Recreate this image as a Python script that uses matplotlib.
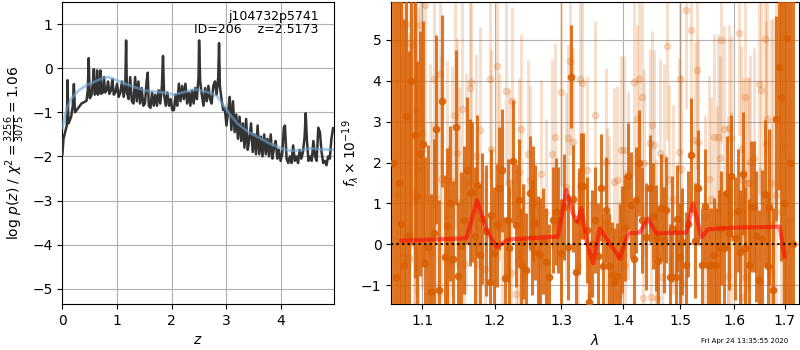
import matplotlib
matplotlib.use('Agg')
import matplotlib.pyplot as plt
from matplotlib.ticker import NullLocator, NullFormatter, FixedLocator, FixedFormatter

# ---- left panel: redshift probability
z_pz = [0.00, 0.02, 0.05, 0.08, 0.095, 0.11, 0.13, 0.16, 0.19, 0.21, 0.23, 0.26, 0.29, 0.32,
        0.35, 0.38, 0.41, 0.44, 0.465, 0.48, 0.50, 0.53, 0.56, 0.575, 0.59, 0.62, 0.635, 0.65,
        0.68, 0.695, 0.71, 0.74, 0.76, 0.78, 0.81, 0.835, 0.86, 0.89, 0.915, 0.94, 0.97, 1.00,
        1.03, 1.06, 1.09, 1.12, 1.15, 1.165, 1.18, 1.21, 1.24, 1.27, 1.30, 1.33, 1.36, 1.39,
        1.42, 1.45, 1.48, 1.51, 1.54, 1.56, 1.58, 1.61, 1.64, 1.67, 1.70, 1.73, 1.76, 1.79,
        1.82, 1.84, 1.86, 1.89, 1.92, 1.95, 1.98, 2.01, 2.04, 2.07, 2.10, 2.13, 2.16, 2.19,
        2.22, 2.25, 2.28, 2.31, 2.34, 2.37, 2.40, 2.43, 2.46, 2.49, 2.50, 2.52, 2.55, 2.58,
        2.61, 2.64, 2.67, 2.70, 2.73, 2.76, 2.79, 2.82, 2.85, 2.865, 2.88, 2.91, 2.94, 2.97,
        3.00, 3.03, 3.06, 3.09, 3.12, 3.15, 3.18, 3.21, 3.24, 3.27, 3.30, 3.33, 3.36, 3.39,
        3.42, 3.45, 3.48, 3.51, 3.54, 3.57, 3.60, 3.63, 3.66, 3.69, 3.72, 3.75, 3.78, 3.81,
        3.84, 3.87, 3.90, 3.93, 3.96, 3.99, 4.02, 4.05, 4.07, 4.10, 4.13, 4.16, 4.19, 4.22,
        4.25, 4.28, 4.31, 4.34, 4.37, 4.40, 4.43, 4.45, 4.47, 4.50, 4.53, 4.56, 4.59, 4.62,
        4.65, 4.68, 4.71, 4.74, 4.77, 4.80, 4.83, 4.86, 4.89, 4.92, 4.95]
log_pz = [-1.95, -1.60, -1.45, -1.30, -0.27, -1.25, -1.20, -1.10, -0.85, -0.36, -1.00, -0.95,
          -0.90, -0.85, -0.80, -0.78, -0.76, -0.74, -0.50, 0.23, -0.68, -0.62, -0.30, -0.02,
          -0.60, -0.55, -0.05, -0.60, -0.50, -0.05, -0.58, -0.55, -0.20, -0.55, -0.50, -0.30,
          -0.58, -0.50, -0.25, -0.60, -0.55, -0.35, -0.65, -0.55, -0.30, -0.65, -0.40, 0.63,
          -0.55, -0.70, -0.20, -0.75, -0.80, -0.20, -0.75, -0.30, -0.80, -0.45, -0.85, -0.80,
          -0.30, -0.10, -0.85, -0.90, -0.55, -0.85, -0.60, -0.85, -0.50, -0.80, -0.40, 0.28,
          -0.60, -0.85, -0.55, -0.85, -0.70, -0.95, -0.95, -0.60, -0.85, -0.35, -0.75, -0.40,
          -0.70, -0.35, -0.80, -0.55, -0.85, -0.50, -0.80, -0.45, -0.70, -0.20, 0.63, -0.30,
          -0.60, -0.85, -0.45, -0.75, -0.40, -0.70, -0.80, -0.40, -0.30, -0.60, -0.20, 0.57,
          -0.40, -0.70, -0.95, -0.90, -1.30, -1.00, -0.65, -1.40, -0.75, -1.45, -1.05, -1.60,
          -1.10, -1.65, -1.25, -1.80, -1.15, -1.85, -1.60, -1.25, -1.90, -1.50, -1.95, -1.30,
          -1.95, -1.55, -2.00, -1.50, -1.95, -1.60, -2.00, -1.50, -2.05, -1.80, -1.65, -2.05,
          -1.85, -2.10, -1.95, -1.35, -1.30, -2.05, -2.15, -2.00, -2.15, -1.75, -2.10, -2.00,
          -2.15, -1.85, -2.05, -1.90, -1.55, -1.02, -1.60, -2.10, -2.00, -2.10, -1.65, -2.00,
          -2.10, -1.35, -1.45, -1.90, -2.15, -2.10, -2.20, -2.00, -2.05, -1.60, -1.36]

z_prior = [0.00, 0.05, 0.10, 0.17, 0.30, 0.45, 0.60, 0.75, 0.84, 0.95, 1.10, 1.30, 1.50, 1.67,
           1.85, 2.03, 2.20, 2.43, 2.60, 2.75, 2.83, 2.95, 3.07, 3.20, 3.31, 3.45, 3.62, 3.78,
           3.93, 4.05, 4.17, 4.35, 4.54, 4.75, 4.96]
log_prior = [-1.35, -1.05, -0.85, -0.68, -0.50, -0.38, -0.30, -0.22, -0.20, -0.25, -0.33,
             -0.42, -0.50, -0.53, -0.55, -0.60, -0.55, -0.48, -0.52, -0.58, -0.64, -0.85,
             -1.06, -1.25, -1.36, -1.48, -1.59, -1.70, -1.78, -1.84, -1.87, -1.86, -1.82,
             -1.84, -1.85]

# ---- right panel: spectrum (primary grism, dark)
lam_a = [1.0620, 1.0658, 1.0697, 1.0729, 1.0761, 1.0787, 1.0830, 1.0861, 1.0904, 1.0934,
         1.0970, 1.1014, 1.1036, 1.1079, 1.1125, 1.1160, 1.1192, 1.1227, 1.1267, 1.1304,
         1.1335, 1.1372, 1.1417, 1.1454, 1.1485, 1.1532, 1.1571, 1.1610, 1.1648, 1.1686,
         1.1718, 1.1750, 1.1789, 1.1827, 1.1884, 1.1931, 1.1955, 1.1989, 1.2032, 1.2061,
         1.2108, 1.2158, 1.2192, 1.2217, 1.2265, 1.2314, 1.2354, 1.2391, 1.2424, 1.2462,
         1.2523, 1.2553, 1.2573, 1.2604, 1.2638, 1.2674, 1.2714, 1.2765, 1.2817, 1.2868,
         1.2919, 1.2946, 1.2993, 1.3050, 1.3102, 1.3154, 1.3181, 1.3234, 1.3276, 1.3313,
         1.3340, 1.3409, 1.3448, 1.3490, 1.3545, 1.3594, 1.3631, 1.3669, 1.3713, 1.3768,
         1.3813, 1.3851, 1.3908, 1.3946, 1.3991, 1.4038, 1.4086, 1.4132, 1.4187, 1.4228,
         1.4273, 1.4331, 1.4388, 1.4458, 1.4515, 1.4562, 1.4606, 1.4650, 1.4708, 1.4750,
         1.4809, 1.4857, 1.4916, 1.4946, 1.4988, 1.5037, 1.5096, 1.5141, 1.5200, 1.5265,
         1.5328, 1.5394, 1.5444, 1.5505, 1.5569, 1.5612, 1.5655, 1.5712, 1.5753, 1.5800,
         1.5863, 1.5909, 1.5947, 1.6024, 1.6074, 1.6113, 1.6165, 1.6218, 1.6295, 1.6334,
         1.6379, 1.6429, 1.6478, 1.6544, 1.6611, 1.6657, 1.6691, 1.6758, 1.6824, 1.6879,
         1.6933, 1.6981, 1.7048, 1.7103, 1.7165]
flux_a = [2.00, -0.80, 1.50, 0.50, -0.50, 3.13, 0.23, 3.99, 2.68, 1.18,
          2.22, 2.45, -0.46, -0.06, -1.17, 0.28, 2.81, -1.11, 3.50, -0.30,
          0.45, 1.00, -0.36, 2.86, -0.77, -0.03, 0.60, 1.81, 1.26, 1.28,
          0.20, 1.45, -0.26, 0.63, 0.33, -0.91, 0.72, -0.20, 0.47, 1.37,
          1.81, -0.83, 0.59, -0.10, 2.03, 0.47, 1.08, -0.50, 0.07, -0.63,
          1.26, 0.17, 1.00, 0.53, -0.22, -0.26, 0.09, -0.42, -0.79, 0.59,
          0.80, 0.59, -0.20, 0.92, -0.07, 4.10, 1.12, -0.67, 0.57, 1.42,
          1.42, 0.35, -1.40, 0.02, 0.59, -0.28, 1.39, -0.54, 0.84, -0.53,
          -0.75, -0.91, -0.77, -0.32, 0.12, 0.40, 1.67, 0.96, -0.36, 1.08,
          1.99, 0.59, 0.19, 1.37, 0.69, 0.15, -0.40, 0.90, 0.11, 0.84,
          -0.80, 0.37, -0.79, 0.63, -0.30, 0.07, -0.50, 0.50, 2.18, 0.09,
          1.39, -0.50, 0.93, -0.50, -0.50, -0.26, -0.50, -0.07, 0.40, -0.10,
          1.26, 0.29, 1.67, 0.15, 0.82, -0.18, 1.73, -0.10, -0.50, 0.92,
          0.92, 0.20, -0.87, 0.12, 1.24, -0.53, 0.92, -1.11, 3.07, 4.33,
          3.60, 1.00, 5.05, 2.00, 0.00]
err_a = [9.0, 8.0, 7.0, 7.0, 6.0, 5.0, 4.5, 4.0, 3.5, 3.3,
         3.0, 3.0, 2.6, 2.5, 2.4, 2.3, 2.3, 2.2, 2.1, 2.0,
         1.9, 1.9, 1.9, 1.9, 1.8, 1.8, 1.8, 1.8, 1.8, 1.7,
         1.7, 1.7, 1.7, 1.6, 1.6, 1.6, 1.6, 1.6, 1.5, 1.5,
         1.5, 1.5, 1.5, 1.5, 1.5, 1.5, 1.5, 1.4, 1.4, 1.4,
         1.4, 1.4, 1.4, 1.4, 1.4, 1.4, 1.3, 1.3, 1.3, 1.3,
         1.3, 1.3, 1.3, 1.3, 1.3, 1.25, 1.3, 1.3, 1.3, 1.3,
         1.3, 1.3, 1.3, 1.3, 1.3, 1.3, 1.3, 1.3, 1.3, 1.3,
         1.3, 1.3, 1.3, 1.3, 1.3, 1.3, 1.3, 1.3, 1.3, 1.3,
         1.3, 1.3, 1.3, 1.3, 1.3, 1.3, 1.3, 1.3, 1.3, 1.3,
         1.3, 1.3, 1.3, 1.3, 1.3, 1.3, 1.3, 1.3, 1.4, 1.4,
         1.4, 1.4, 1.4, 1.4, 1.4, 1.4, 1.4, 1.4, 1.4, 1.4,
         1.4, 1.4, 1.5, 1.5, 1.5, 1.5, 1.5, 1.5, 1.6, 1.6,
         1.6, 1.6, 1.7, 1.7, 1.8, 1.8, 1.9, 2.0, 2.5, 3.0,
         4.0, 6.0, 7.0, 9.0, 10.0]

# ---- right panel: second spectrum (faint)
lam_b = [1.0671, 1.0748, 1.0795, 1.0830, 1.0838, 1.0891, 1.0882, 1.0910, 1.0919, 1.0948,
         1.0978, 1.1001, 1.1036, 1.1102, 1.1133, 1.1164, 1.1199, 1.1244, 1.1258, 1.1335,
         1.1358, 1.1408, 1.1440, 1.1470, 1.1498, 1.1539, 1.1591, 1.1565, 1.1648, 1.1671,
         1.1729, 1.1747, 1.1786, 1.1860, 1.1931, 1.1955, 1.2032, 1.2061, 1.2108, 1.2166,
         1.2205, 1.2236, 1.2247, 1.2314, 1.2339, 1.2364, 1.2388, 1.2438, 1.2487, 1.2523,
         1.2687, 1.2765, 1.2855, 1.2899, 1.2991, 1.3069, 1.3106, 1.3134, 1.3181, 1.3261,
         1.3292, 1.3333, 1.3453, 1.3415, 1.3540, 1.3716, 1.3740, 1.3764, 1.3848, 1.3901,
         1.3927, 1.3966, 1.4010, 1.4042, 1.4083, 1.4180, 1.4242, 1.4273, 1.4322, 1.4342,
         1.4366, 1.4458, 1.4473, 1.4496, 1.4536, 1.4562, 1.4579, 1.4632, 1.4672, 1.4703,
         1.4752, 1.4800, 1.4862, 1.4970, 1.4988, 1.5009, 1.5032, 1.5096, 1.5200, 1.5272,
         1.5302, 1.5324, 1.5444, 1.5515, 1.5569, 1.5613, 1.5666, 1.5688, 1.5721, 1.5753,
         1.5800, 1.5873, 1.5883, 1.5909, 1.5932, 1.5945, 1.6100, 1.6125, 1.6153, 1.6179,
         1.6207, 1.6226, 1.6244, 1.6284, 1.6305, 1.6382, 1.6488, 1.6498, 1.6518, 1.6597,
         1.6629, 1.6637, 1.6730, 1.6730, 1.6771, 1.6824, 1.6926, 1.6960, 1.7021, 1.7103]
flux_b = [1.20, -0.30, 5.39, -0.34, 4.92, 1.28, 4.88, 1.12, 3.28, 1.81,
          5.37, 2.71, 5.86, 1.10, -0.22, 4.03, 1.12, 4.17, 1.61, 1.57,
          -0.46, 1.55, 3.17, 2.24, 1.04, 3.32, 1.49, -0.48, 3.83, 3.98,
          2.15, -0.48, 2.80, -0.59, 4.03, 2.34, 4.37, 1.89, 0.55, 3.76,
          1.49, -0.71, 3.50, -1.20, -0.38, 1.76, 2.83, -0.79, 2.20, 1.57,
          1.72, 0.76, 2.20, 2.63, 3.72, 1.41, 2.59, 4.48, 2.50, -0.54,
          4.04, 3.95, -1.24, 1.81, 3.15, 2.02, 0.55, 0.35, 1.53, 1.57,
          -1.24, 2.30, 2.30, -0.50, 1.45, 3.97, 3.07, 4.05, 3.59, -1.32,
          1.98, 2.48, -1.29, 2.91, 2.44, -0.22, -1.32, 2.24, -0.80, 2.10,
          4.84, 1.59, 1.10, 2.26, 4.03, 1.83, -0.95, 5.72, 5.24, 2.54,
          4.25, 2.50, 0.67, 1.61, 1.10, 2.63, 0.88, 2.63, 2.10, 5.00,
          2.83, -0.77, 0.63, 2.85, 0.76, 2.59, 5.17, 2.34, -1.28, 1.57,
          3.60, -0.79, 1.50, 1.50, 2.02, 2.10, 3.93, -0.91, 3.78, 5.02,
          2.46, 3.07, -0.67, 1.50, 0.50, 1.20, 0.80, 2.40, -0.20, 0.60]
err_b = [8.0, 7.0, 6.0, 5.5, 5.5, 5.0, 5.0, 4.5, 4.5, 4.0,
         4.0, 3.8, 3.6, 3.3, 3.2, 3.2, 3.1, 3.0, 3.0, 2.9,
         2.9, 2.8, 2.8, 2.8, 2.8, 2.7, 2.7, 2.6, 2.6, 2.6,
         2.5, 2.5, 2.5, 2.4, 2.4, 2.4, 2.4, 2.3, 2.3, 2.3,
         2.3, 2.3, 2.3, 2.3, 2.3, 2.3, 2.3, 2.3, 2.3, 2.3,
         2.3, 2.3, 2.3, 2.3, 2.3, 2.3, 2.3, 2.3, 2.3, 2.3,
         2.3, 2.3, 2.3, 2.3, 2.3, 2.3, 2.3, 2.3, 2.3, 2.3,
         2.3, 2.3, 2.3, 2.3, 2.3, 2.3, 2.3, 2.3, 2.3, 2.3,
         2.3, 2.3, 2.3, 2.3, 2.3, 2.3, 2.3, 2.3, 2.3, 2.3,
         2.3, 2.3, 2.3, 2.3, 2.3, 2.3, 2.3, 2.4, 2.4, 2.4,
         2.4, 2.5, 2.5, 2.5, 2.5, 2.5, 2.5, 2.5, 2.5, 2.5,
         2.5, 2.5, 2.5, 2.5, 2.5, 2.5, 2.5, 2.5, 2.5, 2.5,
         2.6, 2.6, 2.6, 2.6, 2.6, 2.7, 2.7, 2.8, 2.8, 2.8,
         3.0, 3.0, 3.5, 4.0, 5.0, 6.0, 7.0, 8.0, 9.0, 10.0]

# ---- best-fit model
lam_model = [1.0731, 1.1602, 1.1751, 1.1884, 1.2028, 1.2196, 1.2950, 1.3081, 1.3186, 1.3250,
             1.3320, 1.3400, 1.3506, 1.3615, 1.3780, 1.3946, 1.4089, 1.4283, 1.4428, 1.4572,
             1.5108, 1.5228, 1.5383, 1.5506, 1.5978, 1.6897, 1.7000]
flux_model = [0.09, 0.15, 1.08, 0.35, -0.07, 0.12, 0.19, 1.33, 0.75, 0.55,
              0.88, 0.10, -0.46, 0.39, 0.02, -0.34, 0.27, 0.29, 0.63, 0.27,
              0.29, 1.00, 0.17, 0.37, 0.41, 0.43, -0.30]

lam_ticks = [1.1, 1.2, 1.3, 1.4, 1.5, 1.6, 1.7]
spec_color = '#d95f02'

fig = plt.figure(figsize=(8, 3.5), dpi=100)
ax1 = fig.add_axes([0.078, 0.131, 0.339, 0.863])
ax2 = fig.add_axes([0.489, 0.131, 0.5095, 0.863])

# left: p(z)
ax1.plot(z_pz, log_pz, color='0.2', linewidth=1.8, zorder=3)
ax1.plot(z_prior, log_prior, color='#6fa6d6', linewidth=2, alpha=0.6, zorder=4)
ax1.set_xlim(0, 4.96)
ax1.set_ylim(-5.35, 1.5)
ax1.set_yticks([-5, -4, -3, -2, -1, 0, 1])
ax1.set_xticks([0, 1, 2, 3, 4])
ax1.grid(True)
ax1.set_xlabel('$z$')
ax1.set_ylabel(r'$\log\, p(z)$ / $\chi^2=\frac{3256}{3075}=1.06$')
ax1.text(0.945, 0.975, 'j104732p5741\nID=206    z=2.5173', transform=ax1.transAxes,
         ha='right', va='top', fontsize=9, linespacing=1.05, zorder=5)

# right: spectrum
ax2.errorbar(lam_b, flux_b, yerr=err_b, marker='o', linestyle='none', color=spec_color,
             alpha=0.2, markersize=4.5, elinewidth=2.2, capsize=0, zorder=2)
ax2.errorbar(lam_a, flux_a, yerr=err_a, marker='o', linestyle='none', color=spec_color,
             alpha=0.85, markersize=4.5, elinewidth=2.2, capsize=0, zorder=3)
ax2.plot(lam_model, flux_model, color='red', linewidth=3, alpha=0.55, zorder=5)
ax2.axhline(0, color='k', linestyle=':', linewidth=1.5, zorder=6)

ax2.set_xscale('log')
ax2.set_xlim(1.06, 1.729)
ax2.set_ylim(-1.46, 5.92)
ax2.xaxis.set_major_locator(FixedLocator(lam_ticks))
ax2.xaxis.set_major_formatter(FixedFormatter(['%.1f' % v for v in lam_ticks]))
ax2.xaxis.set_minor_locator(NullLocator())
ax2.xaxis.set_minor_formatter(NullFormatter())
ax2.set_yticks([-1, 0, 1, 2, 3, 4, 5])
ax2.grid(True)
ax2.set_xlabel(r'$\lambda$')
ax2.set_ylabel(r'$f_\lambda \times 10^{-19}$', labelpad=0)

fig.text(0.985, 0.018, 'Fri Apr 24 13:35:55 2020', ha='right', va='bottom', fontsize=5)

plt.savefig('out.png', dpi=100)
